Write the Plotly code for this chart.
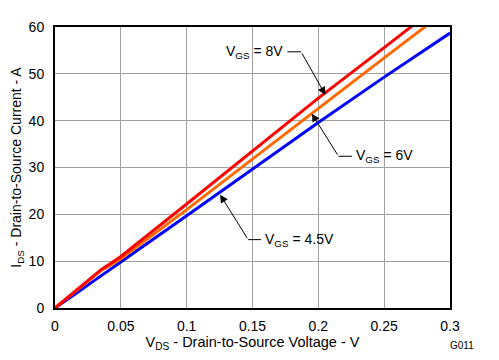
import plotly.graph_objects as go

vds = [0, 0.01, 0.02, 0.03, 0.035, 0.04, 0.05, 0.1, 0.15, 0.2, 0.25, 0.3]
id_8v = [0, 2.4, 4.8, 7.1, 8.2, 9.1, 11.0, 22.2, 33.4, 44.8, 55.6, 66.5]
id_6v = [0, 2.3, 4.6, 6.9, 8.0, 8.8, 10.5, 21.0, 31.8, 42.7, 53.4, 64.1]
id_45v = [0, 1.9, 3.9, 5.9, 6.9, 7.9, 9.8, 19.7, 29.6, 39.6, 49.3, 58.7]

x_ticks = [0, 0.05, 0.1, 0.15, 0.2, 0.25, 0.3]
x_tick_labels = ["0", "0.05", "0.1", "0.15", "0.2", "0.25", "0.3"]
y_ticks = [0, 10, 20, 30, 40, 50, 60]

FONT = "Liberation Sans, Arial, sans-serif"

fig = go.Figure()
fig.add_trace(go.Scatter(x=vds, y=id_45v, mode="lines", line=dict(color="#0000FF", width=3), name="VGS = 4.5V"))
fig.add_trace(go.Scatter(x=vds, y=id_6v, mode="lines", line=dict(color="#FF6A00", width=3), name="VGS = 6V"))
fig.add_trace(go.Scatter(x=vds, y=id_8v, mode="lines", line=dict(color="#FF0000", width=3), name="VGS = 8V"))

# callouts: (text, text anchor x, y, anchor, elbow x, elbow y, line-end x, tip x, tip y)
callouts = [
    ("V<sub>GS</sub> = 8V", 0.1765, 54.7, "right", 0.1869, 54.7, 0.1765, 0.2054, 45.5),
    ("V<sub>GS</sub> = 6V", 0.2255, 32.4, "left", 0.2153, 32.4, 0.2255, 0.1950, 41.5),
    ("V<sub>GS</sub> = 4.5V", 0.1565, 14.6, "left", 0.1467, 14.6, 0.1565, 0.1254, 24.2),
]
for text, tx, ty, anchor, ex, ey, lx, px, py in callouts:
    fig.add_annotation(x=px, y=py, ax=ex, ay=ey, axref="x", ayref="y", xref="x", yref="y",
                       text="", showarrow=True, arrowhead=2, arrowsize=1.6, arrowwidth=1, arrowcolor="black")
    fig.add_shape(type="line", x0=ex, y0=ey, x1=lx, y1=ey, xref="x", yref="y",
                  line=dict(color="black", width=1))
    fig.add_annotation(x=tx, y=ty, xref="x", yref="y", text=text,
                       showarrow=False, xanchor=anchor, yanchor="middle", xshift=(-2 if anchor == "right" else 2),
                       font=dict(family=FONT, size=14, color="black"))

fig.add_annotation(x=1.03, y=-0.133, xref="paper", yref="paper", text="G011", showarrow=False,
                   xanchor="center", yanchor="middle", font=dict(family=FONT, size=10, color="black"))

# page body has an 8px default margin: figure is sized/placed so the plot area lands at x 55-450, y 27-308
fig.update_layout(
    width=491, height=352,
    margin=dict(l=47, r=49, t=19, b=52, autoexpand=False),
    paper_bgcolor="white", plot_bgcolor="white",
    showlegend=False,
    font=dict(family=FONT, size=14, color="black"),
)
fig.update_xaxes(range=[0, 0.3], tickvals=x_ticks, ticktext=x_tick_labels,
                 showgrid=True, gridcolor="#A0A0A0", gridwidth=1,
                 showline=True, linecolor="black", linewidth=2, mirror=True,
                 zeroline=False, ticks="", ticklabelstandoff=4, automargin=False,
                 title=dict(text="V<sub>DS</sub> - Drain-to-Source Voltage - V", standoff=2,
                            font=dict(family=FONT, size=14.5)))
fig.update_yaxes(range=[0, 60], tickvals=y_ticks,
                 showgrid=True, gridcolor="#A0A0A0", gridwidth=1,
                 showline=True, linecolor="black", linewidth=2, mirror=True,
                 zeroline=False, ticks="", ticklabelstandoff=6, automargin=False,
                 title=dict(text="I<sub>DS</sub> - Drain-to-Source Current - A", standoff=10,
                            font=dict(family=FONT, size=14)))

fig.write_html("out.html")
